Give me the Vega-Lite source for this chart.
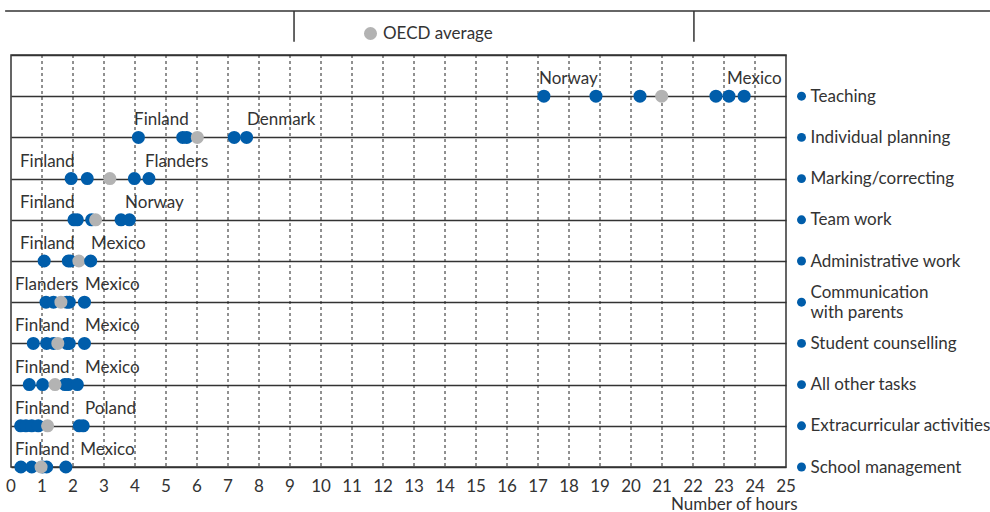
{
  "$schema": "https://vega.github.io/schema/vega-lite/v6.json",
  "autosize": "none",
  "padding": {"left": 11, "top": 55, "right": 204, "bottom": 45},
  "width": 775,
  "height": 412,
  "background": "white",
  "config": {
    "font": "Lato",
    "view": {"stroke": "#333", "strokeWidth": 1.5},
    "axis": {"labelFont": "Lato", "titleFont": "Lato", "labelColor": "#333", "titleColor": "#333"},
    "legend": {"labelFont": "Lato"}
  },
  "datasets": {
    "points": [
      {"task": "Teaching", "series": "Country", "hours": 17.19},
      {"task": "Teaching", "series": "Country", "hours": 18.87},
      {"task": "Teaching", "series": "Country", "hours": 20.29},
      {"task": "Teaching", "series": "OECD average", "hours": 20.99},
      {"task": "Teaching", "series": "Country", "hours": 22.74},
      {"task": "Teaching", "series": "Country", "hours": 23.16},
      {"task": "Teaching", "series": "Country", "hours": 23.65},
      {"task": "Individual planning", "series": "Country", "hours": 4.11},
      {"task": "Individual planning", "series": "Country", "hours": 5.54},
      {"task": "Individual planning", "series": "Country", "hours": 5.67},
      {"task": "Individual planning", "series": "OECD average", "hours": 6.01},
      {"task": "Individual planning", "series": "Country", "hours": 7.2},
      {"task": "Individual planning", "series": "Country", "hours": 7.6},
      {"task": "Marking/correcting", "series": "Country", "hours": 1.94},
      {"task": "Marking/correcting", "series": "Country", "hours": 2.46},
      {"task": "Marking/correcting", "series": "OECD average", "hours": 3.19},
      {"task": "Marking/correcting", "series": "Country", "hours": 3.98},
      {"task": "Marking/correcting", "series": "Country", "hours": 4.45},
      {"task": "Team work", "series": "Country", "hours": 2.03},
      {"task": "Team work", "series": "Country", "hours": 2.14},
      {"task": "Team work", "series": "Country", "hours": 2.6},
      {"task": "Team work", "series": "OECD average", "hours": 2.73},
      {"task": "Team work", "series": "Country", "hours": 3.55},
      {"task": "Team work", "series": "Country", "hours": 3.82},
      {"task": "Administrative work", "series": "Country", "hours": 1.07},
      {"task": "Administrative work", "series": "Country", "hours": 1.85},
      {"task": "Administrative work", "series": "Country", "hours": 1.92},
      {"task": "Administrative work", "series": "OECD average", "hours": 2.19},
      {"task": "Administrative work", "series": "Country", "hours": 2.57},
      {"task": "Communication with parents", "series": "Country", "hours": 1.13},
      {"task": "Communication with parents", "series": "Country", "hours": 1.37},
      {"task": "Communication with parents", "series": "Country", "hours": 1.8},
      {"task": "Communication with parents", "series": "Country", "hours": 1.88},
      {"task": "Communication with parents", "series": "OECD average", "hours": 1.61},
      {"task": "Communication with parents", "series": "Country", "hours": 2.37},
      {"task": "Student counselling", "series": "Country", "hours": 0.72},
      {"task": "Student counselling", "series": "Country", "hours": 1.15},
      {"task": "Student counselling", "series": "Country", "hours": 1.37},
      {"task": "Student counselling", "series": "Country", "hours": 1.8},
      {"task": "Student counselling", "series": "Country", "hours": 1.88},
      {"task": "Student counselling", "series": "OECD average", "hours": 1.51},
      {"task": "Student counselling", "series": "Country", "hours": 2.37},
      {"task": "All other tasks", "series": "Country", "hours": 0.59},
      {"task": "All other tasks", "series": "Country", "hours": 1.02},
      {"task": "All other tasks", "series": "Country", "hours": 1.74},
      {"task": "All other tasks", "series": "Country", "hours": 1.85},
      {"task": "All other tasks", "series": "OECD average", "hours": 1.42},
      {"task": "All other tasks", "series": "Country", "hours": 2.14},
      {"task": "Extracurricular activities", "series": "Country", "hours": 0.31},
      {"task": "Extracurricular activities", "series": "Country", "hours": 0.48},
      {"task": "Extracurricular activities", "series": "Country", "hours": 0.67},
      {"task": "Extracurricular activities", "series": "Country", "hours": 0.88},
      {"task": "Extracurricular activities", "series": "OECD average", "hours": 1.18},
      {"task": "Extracurricular activities", "series": "Country", "hours": 2.2},
      {"task": "Extracurricular activities", "series": "Country", "hours": 2.33},
      {"task": "School management", "series": "Country", "hours": 0.32},
      {"task": "School management", "series": "Country", "hours": 0.67},
      {"task": "School management", "series": "Country", "hours": 1.02},
      {"task": "School management", "series": "Country", "hours": 1.15},
      {"task": "School management", "series": "OECD average", "hours": 0.97},
      {"task": "School management", "series": "Country", "hours": 1.77}
    ],
    "labels": [
      {"task": "Teaching", "country": "Norway", "hours": 17.03},
      {"task": "Teaching", "country": "Mexico", "hours": 23.1},
      {"task": "Individual planning", "country": "Finland", "hours": 3.97},
      {"task": "Individual planning", "country": "Denmark", "hours": 7.61},
      {"task": "Marking/correcting", "country": "Finland", "hours": 0.29},
      {"task": "Marking/correcting", "country": "Flanders", "hours": 4.32},
      {"task": "Team work", "country": "Finland", "hours": 0.29},
      {"task": "Team work", "country": "Norway", "hours": 3.68},
      {"task": "Administrative work", "country": "Finland", "hours": 0.29},
      {"task": "Administrative work", "country": "Mexico", "hours": 2.58},
      {"task": "Communication with parents", "country": "Flanders", "hours": 0.13},
      {"task": "Communication with parents", "country": "Mexico", "hours": 2.39},
      {"task": "Student counselling", "country": "Finland", "hours": 0.13},
      {"task": "Student counselling", "country": "Mexico", "hours": 2.39},
      {"task": "All other tasks", "country": "Finland", "hours": 0.13},
      {"task": "All other tasks", "country": "Mexico", "hours": 2.39},
      {"task": "Extracurricular activities", "country": "Finland", "hours": 0.13},
      {"task": "Extracurricular activities", "country": "Poland", "hours": 2.39},
      {"task": "School management", "country": "Finland", "hours": 0.13},
      {"task": "School management", "country": "Mexico", "hours": 2.23}
    ],
    "tasks": [
      {"task": "Teaching"},
      {"task": "Individual planning"},
      {"task": "Marking/correcting"},
      {"task": "Team work"},
      {"task": "Administrative work"},
      {"task": "Communication with parents"},
      {"task": "Student counselling"},
      {"task": "All other tasks"},
      {"task": "Extracurricular activities"},
      {"task": "School management"}
    ],
    "ticks": [
      {"h": 0}, {"h": 1}, {"h": 2}, {"h": 3}, {"h": 4}, {"h": 5}, {"h": 6}, {"h": 7}, {"h": 8}, {"h": 9},
      {"h": 10}, {"h": 11}, {"h": 12}, {"h": 13}, {"h": 14}, {"h": 15}, {"h": 16}, {"h": 17}, {"h": 18}, {"h": 19},
      {"h": 20}, {"h": 21}, {"h": 22}, {"h": 23}, {"h": 24}, {"h": 25}
    ]
  },
  "layer": [
    {
      "layer": [
        {
          "data": {"name": "ticks"},
          "transform": [{"filter": "datum.h > 0 && datum.h < 25"}],
          "mark": {"type": "rule", "color": "#222", "strokeWidth": 1, "strokeDash": [3, 3]},
          "encoding": {
            "x": {"field": "h", "type": "quantitative"}
          }
        },
        {
          "data": {"name": "points"},
          "mark": {"type": "point", "filled": true, "opacity": 1, "size": 170, "shape": "circle"},
          "encoding": {
            "x": {
              "field": "hours", "type": "quantitative",
              "scale": {"domain": [0, 25], "nice": false, "zero": false},
              "axis": {
                "labels": false, "domain": false, "ticks": false, "grid": false,
                "title": "Number of hours", "titleFontSize": 17, "titleFontWeight": "normal",
                "titleAnchor": "end", "titleAlign": "right", "titleX": 786, "titleY": 42, "titleBaseline": "alphabetic"
              }
            },
            "y": {
              "field": "task", "type": "nominal",
              "scale": {
                "type": "point", "padding": 0,
                "domain": ["", "Teaching", "Individual planning", "Marking/correcting", "Team work", "Administrative work", "Communication with parents", "Student counselling", "All other tasks", "Extracurricular activities", "School management"]
              },
              "axis": {
                "orient": "right", "title": null, "domain": false, "ticks": false,
                "grid": true, "gridColor": "#333", "gridWidth": 1.5,
                "labelFontSize": 17, "labelPadding": 24, "labelAlign": "left", "labelBaseline": "middle", "labelLimit": 300,
                "labelExpr": "datum.value == 'Communication with parents' ? ['Communication', 'with parents'] : datum.value",
                "labelOffset": {"condition": {"test": "datum.value == 'Communication with parents'", "value": -10}, "value": 0},
                "labelLineHeight": 20
              }
            },
            "color": {
              "field": "series", "type": "nominal",
              "scale": {"domain": ["Country", "OECD average"], "range": ["#005DAA", "#B3B3B3"]},
              "legend": {
                "values": ["OECD average"], "title": null, "orient": "none",
                "legendX": 351, "legendY": -30, "padding": 0,
                "labelFontSize": 17, "labelColor": "#333", "symbolSize": 170, "symbolType": "circle"
              }
            }
          }
        },
        {
          "data": {"name": "labels"},
          "mark": {"type": "text", "align": "left", "baseline": "alphabetic", "dy": -12, "fontSize": 17, "color": "#333"},
          "encoding": {
            "x": {"field": "hours", "type": "quantitative"},
            "y": {"field": "task", "type": "nominal"},
            "text": {"field": "country"}
          }
        },
        {
          "data": {"name": "ticks"},
          "mark": {"type": "text", "align": "center", "baseline": "middle", "dy": 20, "fontSize": 17, "color": "#333", "clip": false},
          "encoding": {
            "x": {"field": "h", "type": "quantitative"},
            "y": {"datum": "School management", "type": "nominal"},
            "text": {"field": "h", "type": "quantitative", "format": "d"}
          }
        },
        {
          "data": {"name": "tasks"},
          "mark": {"type": "point", "filled": true, "opacity": 1, "size": 80, "shape": "circle", "color": "#005DAA", "clip": false},
          "encoding": {
            "x": {"datum": 25.5, "type": "quantitative"},
            "y": {"field": "task", "type": "nominal"}
          }
        }
      ]
    },
    {
      "data": {"values": [{}]},
      "layer": [
        {
          "mark": {"type": "rule", "color": "#333", "strokeWidth": 1.5, "clip": false},
          "encoding": {
            "x": {"datum": -0.19, "type": "quantitative", "scale": {"domain": [0, 25], "nice": false, "zero": false}, "axis": null},
            "x2": {"datum": 31.58},
            "y": {"datum": 11.07, "type": "quantitative", "scale": {"domain": [0, 10], "nice": false, "zero": false}, "axis": null}
          }
        },
        {
          "mark": {"type": "rule", "color": "#333", "strokeWidth": 1.5, "clip": false},
          "encoding": {
            "x": {"datum": 9.13, "type": "quantitative", "axis": null},
            "y": {"datum": 11.07, "type": "quantitative", "scale": {"domain": [0, 10], "nice": false, "zero": false}, "axis": null},
            "y2": {"datum": 10.32}
          }
        },
        {
          "mark": {"type": "rule", "color": "#333", "strokeWidth": 1.5, "clip": false},
          "encoding": {
            "x": {"datum": 22.03, "type": "quantitative", "axis": null},
            "y": {"datum": 11.07, "type": "quantitative", "scale": {"domain": [0, 10], "nice": false, "zero": false}, "axis": null},
            "y2": {"datum": 10.32}
          }
        }
      ]
    }
  ],
  "resolve": {"scale": {"y": "independent", "x": "independent"}}
}
